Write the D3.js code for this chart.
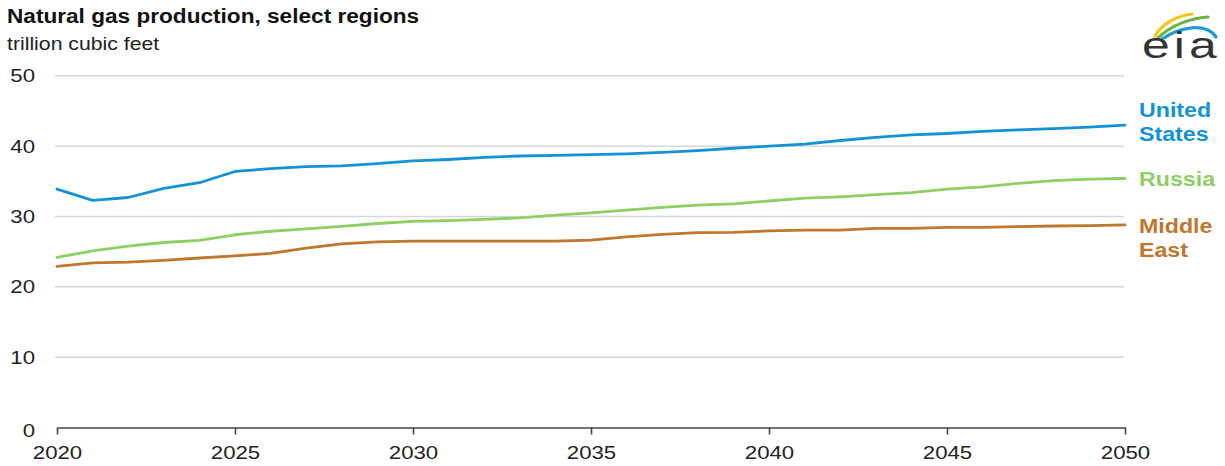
<!DOCTYPE html>
<html><head><meta charset="utf-8">
<script src="https://cdn.jsdelivr.net/npm/d3@7"></script>
<style>body{margin:0;background:#fff}svg{display:block}text{font-family:"Liberation Sans",Arial,sans-serif}</style>
</head><body>
<script>
const years = d3.range(2020, 2051);
const unitedStates = [33.9,32.3,32.7,34.0,34.8,36.4,36.8,37.1,37.2,37.5,37.9,38.1,38.4,38.6,38.7,38.8,38.9,39.1,39.35,39.7,40.0,40.3,40.8,41.25,41.6,41.8,42.1,42.3,42.5,42.7,43.0];
const russia = [24.2,25.1,25.8,26.3,26.6,27.4,27.9,28.25,28.6,29.0,29.3,29.4,29.6,29.8,30.2,30.5,30.9,31.3,31.6,31.8,32.2,32.6,32.8,33.1,33.4,33.9,34.2,34.7,35.1,35.3,35.4];
const middleEast = [22.9,23.4,23.5,23.75,24.1,24.4,24.75,25.5,26.1,26.4,26.5,26.5,26.5,26.5,26.5,26.65,27.1,27.45,27.7,27.75,27.95,28.05,28.05,28.3,28.3,28.45,28.45,28.55,28.65,28.7,28.8];
const yTicks = [0,10,20,30,40,50];
const xTicks = [2020,2025,2030,2035,2040,2045,2050];
const seriesNames = [["United","States"],["Russia"],["Middle","East"]];
const seriesColors = ["#1492d6","#8ccf63","#c0762c"];
const seriesValues = [unitedStates, russia, middleEast];
const title = "Natural gas production, select regions";
const subtitle = "trillion cubic feet";

const W = 1225, H = 466;
const SX = 1.2; // horizontal stretch of the reference text
const svg = d3.select("body").append("svg").attr("width", W).attr("height", H);
const x = d3.scaleLinear().domain([2020, 2050]).range([57, 1125]);
const y = d3.scaleLinear().domain([0, 50]).range([427.5, 75.8]);

function stext(g, px, py, t, size, opts = {}) {
  const el = g.append("text")
    .attr("transform", `translate(${px},${py}) scale(${opts.sx || SX},1)`)
    .attr("font-size", size).attr("fill", opts.fill || "#222").text(t);
  if (opts.bold) el.attr("font-weight", "bold");
  if (opts.anchor) el.attr("text-anchor", opts.anchor);
  if (opts.dy) el.attr("dy", opts.dy);
  return el;
}

stext(svg, 7, 23, title, 19.5, { bold: true, fill: "#111", sx: 1.16 });
stext(svg, 7, 50, subtitle, 18, { fill: "#222", sx: 1.18 });

// gridlines
svg.append("g").selectAll("line").data(yTicks.filter(d => d > 0)).join("line")
  .attr("x1", 55).attr("x2", 1124).attr("y1", d => y(d)).attr("y2", d => y(d))
  .attr("stroke", "#d6d6d6").attr("stroke-width", 1.5);
// y labels
const gy = svg.append("g");
yTicks.forEach(d => stext(gy, 35, y(d) + (d === 0 ? 3 : 0), d, 18.5, { anchor: "end", dy: "0.36em" }));

// x axis
const xAxis = d3.axisBottom(x).tickValues(xTicks).tickFormat(d3.format("d")).tickSize(7).tickSizeOuter(0);
const gx = svg.append("g").attr("transform", `translate(0,${y(0)})`).call(xAxis);
gx.select(".domain").attr("stroke", "#444").attr("stroke-width", 1.6);
gx.selectAll(".tick line").attr("stroke", "#444").attr("stroke-width", 1.6).attr("y2", 7);
gx.selectAll(".tick text").attr("font-size", 18.5).attr("fill", "#222")
  .attr("font-family", '"Liberation Sans",Arial,sans-serif')
  .attr("y", 0).attr("dy", 0).attr("transform", `translate(0,31.5) scale(${SX},1)`);

// lines
const line = d3.line().x((d, i) => x(years[i])).y(d => y(d)).curve(d3.curveLinear);
seriesValues.forEach((vals, k) => {
  svg.append("path").datum(vals).attr("d", line).attr("fill", "none")
    .attr("stroke", seriesColors[k]).attr("stroke-width", 2.8).attr("stroke-linejoin", "round").attr("stroke-linecap", "round");
});

// labels
const labelY = [[117.3, 140.5], [185.5], [233.3, 256.7]];
seriesNames.forEach((lines, k) => {
  lines.forEach((t, j) => {
    stext(svg, 1139, labelY[k][j], t, 19.5, { bold: true, fill: seriesColors[k], sx: 1.19 });
  });
});

// eia logo
const logo = svg.append("g");
logo.append("path").attr("d", "M1155,36 C1162,24 1176,16 1192,14").attr("fill", "none").attr("stroke", "#f2c81e").attr("stroke-width", 3.2).attr("stroke-linecap", "round");
logo.append("path").attr("d", "M1158,38 C1170,26 1190,18 1208,17").attr("fill", "none").attr("stroke", "#6cb33f").attr("stroke-width", 3.2).attr("stroke-linecap", "round");
logo.append("path").attr("d", "M1162,39 C1180,27 1206,22 1216,37").attr("fill", "none").attr("stroke", "#1e9bd7").attr("stroke-width", 3.2).attr("stroke-linecap", "round");
logo.append("text").attr("transform", "translate(1142,58) scale(1.35,1)").attr("font-family", '"Liberation Serif","DejaVu Serif",serif')
  .attr("font-size", 37).attr("letter-spacing", 3).attr("fill", "#333").text("eia");
</script>
</body></html>
